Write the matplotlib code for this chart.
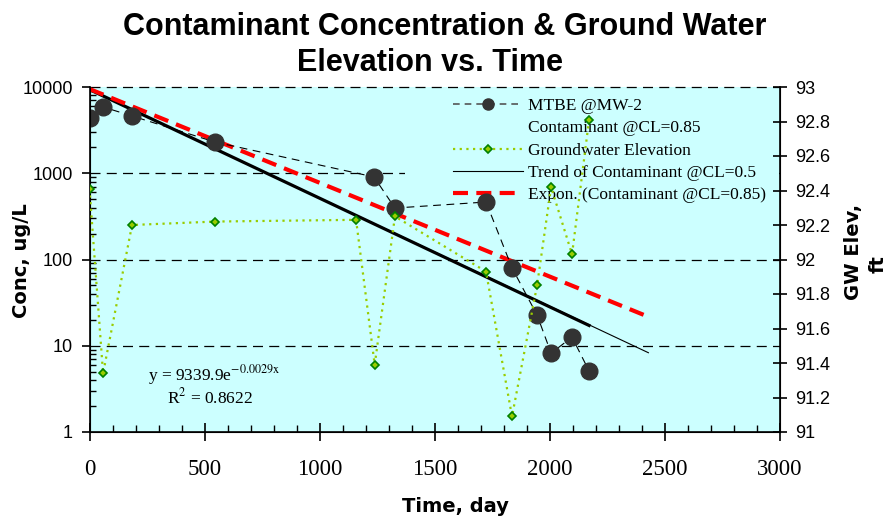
import numpy as np
import matplotlib
matplotlib.use("Agg")
import matplotlib.pyplot as plt
from matplotlib.ticker import FixedLocator, FuncFormatter, LogLocator, MultipleLocator, NullFormatter
from matplotlib.patches import Rectangle
from matplotlib.lines import Line2D

# data
mtbe_day = [0, 59, 185, 546, 1237, 1328, 1724, 1837, 1946, 2007, 2098, 2172]
mtbe_conc = [4375, 5865, 4613, 2300, 906, 395, 464, 80, 22.7, 8.2, 12.6, 5.1]

gw_day = [0, 59, 185, 546, 1159, 1240, 1328, 1724, 1837, 1946, 2007, 2098, 2172]
gw_elev = [92.41, 91.34, 92.20, 92.22, 92.23, 91.39, 92.25, 91.93, 91.09, 91.85, 92.42, 92.03, 92.81]

# trendline end points (exponential = straight on log axis)
trend_day = [0, 2172]
trend_conc = [9340, 17.2]
trend05_day = [0, 2430]
trend05_conc = [9340, 8.3]
expon85_day = [0, 2415]
expon85_conc = [9480, 22.5]

y_ticks = [1, 10, 100, 1000, 10000]
x_ticks = [0, 500, 1000, 1500, 2000, 2500, 3000]

NARROW = ["Liberation Sans Narrow", "Liberation Sans", "DejaVu Sans"]
SERIF = ["Liberation Serif", "DejaVu Serif"]
plt.rcParams["mathtext.fontset"] = "stix"

fig = plt.figure(figsize=(8.91, 5.22), dpi=100, facecolor="white")
ax = fig.add_axes([89.5/891, 1-432/522, 690/891, 345/522])
ax.set_facecolor("#CCFFFF")
ax.set_yscale("log")
ax.set_xlim(0, 3000)
ax.set_ylim(1, 10000)

# dashed horizontal gridlines
for v in [10, 100, 1000, 10000]:
    ax.axhline(v, color="black", lw=0.9, ls=(0, (8, 5)), zorder=1, clip_on=False)

# cyan legend box that hides the grid behind it
ax.add_patch(Rectangle((0.457, 0.66), 0.542, 0.33, transform=ax.transAxes,
                       facecolor="#CCFFFF", edgecolor="none", zorder=1.2))

h1, = ax.plot(mtbe_day, mtbe_conc, color="black", lw=0.8, ls=(0, (7, 5)),
              marker="o", ms=12, mfc="#333333", mec="#333333", zorder=4, label="MTBE @MW-2")
h2, = ax.plot([], [], ls="none", label="Contaminant @CL=0.85")
h4, = ax.plot(trend05_day, trend05_conc, color="black", lw=0.8, zorder=3,
              label="Trend of Contaminant @CL=0.5")
ax.plot(trend_day, trend_conc, color="black", lw=2.3, zorder=3)
h5, = ax.plot(expon85_day, expon85_conc, color="#FF0000", lw=3, ls=(0, (3.6, 2)), zorder=3,
              label="Expon. (Contaminant @CL=0.85)")

ax2 = ax.twinx()
ax2.set_ylim(91, 93)
h3, = ax2.plot(gw_day, gw_elev, color="#99CC00", lw=1.6, ls=(0, (1, 2)),
               marker="D", ms=4, mfc="#99CC00", mec="#008000", mew=1.2, zorder=5,
               label="Groundwater Elevation")

# proxy handles for the legend
gw_handle = Line2D([], [], color="#99CC00", lw=1.6, ls=(0, (1, 2)), marker="D", ms=4,
                   mfc="#99CC00", mec="#008000", mew=1.2)
mt_handle = Line2D([], [], color="#555555", lw=1.2, ls=(0, (4, 3)), marker="o", ms=8,
                   mfc="#333333", mec="#333333")

leg = ax.legend([mt_handle, h2, gw_handle, h4, h5],
                ["MTBE @MW-2", "Contaminant @CL=0.85", "Groundwater Elevation",
                 "Trend of Contaminant @CL=0.5", "Expon. (Contaminant @CL=0.85)"],
                loc="upper left", bbox_to_anchor=(0.527, 0.968), frameon=False,
                prop={"family": SERIF, "size": 12.5}, handlelength=4.0, handletextpad=0.3,
                borderpad=0, borderaxespad=0, labelspacing=0.35)
leg.set_zorder(1.5)

ax.text(0.085, 0.165, r"y = 9339.9e$^{-0.0029\mathrm{x}}$", transform=ax.transAxes,
        family=SERIF, fontsize=12.5, va="center", ha="left")
ax.text(0.113, 0.10, r"R$^{2}$ = 0.8622", transform=ax.transAxes,
        family=SERIF, fontsize=12.5, va="center", ha="left")

# axes styling
ax.spines["top"].set_visible(False)
ax2.spines["top"].set_visible(False)
for sp in ["left", "bottom"]:
    ax.spines[sp].set_linewidth(1.2)
ax2.spines["right"].set_linewidth(1.2)

ax.xaxis.set_major_locator(FixedLocator(x_ticks))
ax.xaxis.set_minor_locator(MultipleLocator(100))
ax.tick_params(axis="x", which="major", direction="inout", length=13, width=1.2, pad=13)
ax.tick_params(axis="x", which="minor", direction="in", length=5, width=1)
for lab in ax.get_xticklabels():
    lab.set_family(SERIF)
    lab.set_fontsize(16.5)

ax.yaxis.set_major_locator(FixedLocator(y_ticks))
ax.yaxis.set_major_formatter(FuncFormatter(lambda v, p: "%d" % v))
ax.yaxis.set_minor_locator(LogLocator(base=10, subs=np.arange(2, 10)))
ax.yaxis.set_minor_formatter(NullFormatter())
ax.tick_params(axis="y", which="major", direction="out", length=6, width=1.2, pad=6)
ax.tick_params(axis="y", which="minor", direction="in", length=4, width=1)
for lab in ax.get_yticklabels():
    lab.set_family(NARROW)
    lab.set_fontsize(13)

ax2.yaxis.set_major_locator(MultipleLocator(0.2))
ax2.yaxis.set_major_formatter(FuncFormatter(lambda v, p: "%g" % round(v, 1)))
ax2.tick_params(axis="y", which="major", direction="inout", length=10, width=1.2, pad=6)
for lab in ax2.get_yticklabels():
    lab.set_family(NARROW)
    lab.set_fontsize(13)

fig.text(445/891, 1-27/522, "Contaminant Concentration & Ground Water",
         family=NARROW, weight="bold", fontsize=22, ha="center", va="center")
fig.text(430/891, 1-63/522, "Elevation vs. Time",
         family=NARROW, weight="bold", fontsize=22, ha="center", va="center")
fig.text(455/891, 1-506/522, "Time, day", family="DejaVu Sans", weight="bold",
         fontsize=14, ha="center", va="center")
fig.text(22/891, 1-261/522, "Conc, ug/L", family="DejaVu Sans", weight="bold",
         fontsize=14, ha="center", va="center", rotation=90)
fig.text(853/891, 1-252/522, "GW Elev,", family="DejaVu Sans", weight="bold",
         fontsize=14, ha="center", va="center", rotation=90)
fig.text(878/891, 1-264/522, "ft", family="DejaVu Sans", weight="bold",
         fontsize=14, ha="center", va="center", rotation=90)

fig.savefig("out.png", dpi=100, facecolor="white")
